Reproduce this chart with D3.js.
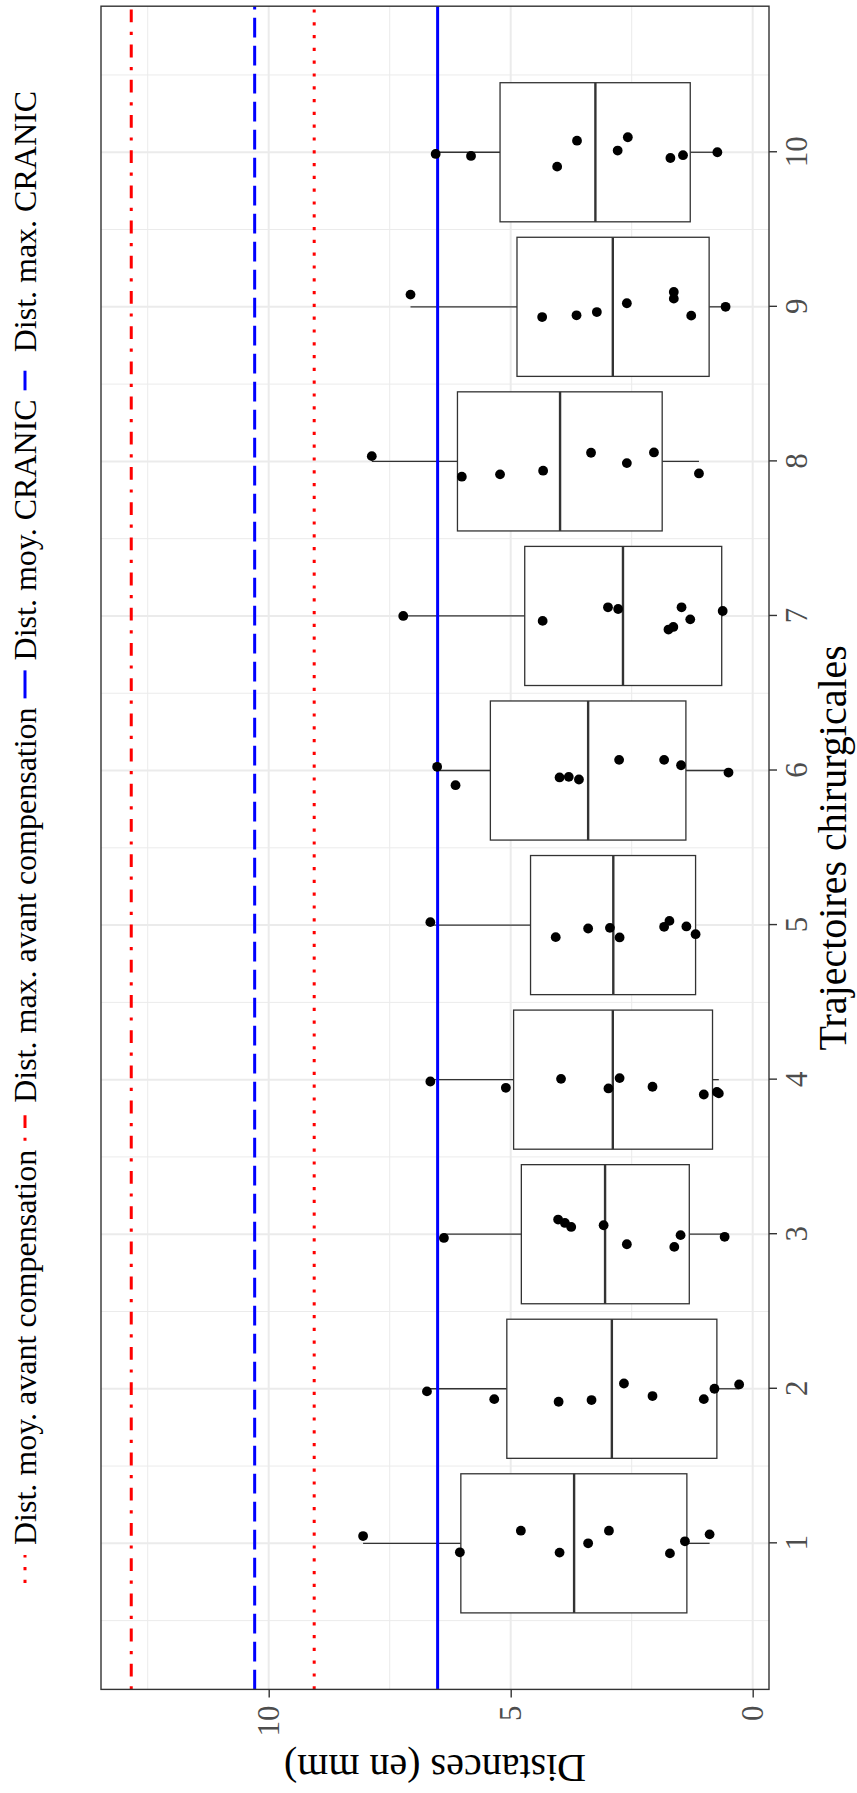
<!DOCTYPE html>
<html><head><meta charset="utf-8">
<script src="https://cdn.jsdelivr.net/npm/d3@7"></script>
<style>html,body{margin:0;padding:0;background:#fff}svg{display:block}</style>
</head><body>
<script>
// ---- data ----
const categories = [1,2,3,4,5,6,7,8,9,10];
const boxQ1     = [1.36, 0.74, 1.31, 0.83, 1.18, 1.38, 0.64, 1.87, 0.90, 1.29];
const boxMedian = [3.69, 2.91, 3.05, 2.89, 2.88, 3.40, 2.68, 3.98, 2.89, 3.25];
const boxQ3     = [6.03, 5.08, 4.78, 4.94, 4.59, 5.42, 4.71, 6.10, 4.87, 5.22];
const whiskerLow  = [0.89, 0.28, 0.58, 0.70, 1.18, 0.50, 0.62, 1.11, 0.56, 0.73];
const whiskerHigh = [8.05, 6.73, 6.38, 6.66, 6.66, 6.52, 7.22, 7.87, 7.07, 6.55];
const pointValues = [
  [8.05, 6.05, 4.79, 3.99, 3.40, 2.97, 1.71, 1.40, 0.89],
  [6.73, 5.34, 4.01, 3.33, 2.66, 2.07, 1.01, 0.79, 0.28],
  [6.38, 4.02, 3.88, 3.75, 3.08, 2.60, 1.62, 1.49, 0.58],
  [6.66, 5.10, 3.96, 2.98, 2.75, 2.07, 1.01, 0.74, 0.70],
  [6.66, 4.07, 3.40, 2.95, 2.75, 1.83, 1.72, 1.37, 1.18],
  [6.52, 6.14, 3.99, 3.80, 3.59, 2.76, 1.83, 1.48, 0.50],
  [7.22, 4.34, 2.99, 2.78, 1.47, 1.29, 1.74, 1.64, 0.62],
  [7.87, 6.01, 5.22, 4.33, 3.34, 2.60, 2.04, 1.11],
  [7.07, 4.35, 3.64, 3.22, 2.60, 1.63, 1.63, 1.27, 0.56],
  [6.55, 5.82, 4.04, 3.63, 2.79, 2.58, 1.70, 1.44, 0.73]
];
const pointJitter = [
  [0.047, -0.058, 0.082, -0.060, 0.000, 0.082, -0.065, 0.013, 0.058],
  [-0.017, -0.067, -0.084, -0.073, 0.034, -0.047, -0.067, 0.000, 0.028],
  [-0.024, 0.095, 0.073, 0.047, 0.058, -0.065, -0.082, -0.006, -0.017],
  [-0.012, -0.053, 0.005, -0.057, 0.010, -0.046, -0.096, -0.080, -0.089],
  [0.019, -0.078, -0.022, -0.018, -0.080, -0.011, 0.027, -0.009, -0.059],
  [0.024, -0.095, -0.045, -0.041, -0.058, 0.069, 0.069, 0.034, -0.013],
  [0.000, -0.032, 0.056, 0.045, 0.056, -0.022, -0.088, -0.071, 0.032],
  [0.034, -0.099, -0.084, -0.060, 0.056, -0.011, 0.058, -0.078],
  [0.079, -0.066, -0.055, -0.034, 0.023, 0.096, 0.053, -0.057, 0.000],
  [-0.011, -0.024, -0.093, 0.075, 0.011, 0.097, -0.037, -0.019, 0.000]
];
const refLabels = ["Dist. moy. avant compensation", "Dist. max. avant compensation", "Dist. moy. CRANIC", "Dist. max. CRANIC"];
const refValues = [9.06, 12.84, 6.51, 10.29];
const refColors = ["#FF0000", "#FF0000", "#0000FF", "#0000FF"];
const refDashes = ["3.2,9.6", "3.2,9.6,12.8,9.6", null, "19.6,8.4"];
const yTicks = [0, 5, 10];
const yMinorTicks = [2.5, 7.5, 12.5];
const xMinorTicks = [0.5,1.5,2.5,3.5,4.5,5.5,6.5,7.5,8.5,9.5,10.5];
const xTitle = "Trajectoires chirurgicales";
const yTitle = "Distances (en mm)";

// ---- layout (drawn in landscape, then rotated -90deg) ----
const PW = 857, PH = 1793;   // page
const FONT = "'Liberation Serif', 'Times New Roman', serif";
const panel = {left: 103.6, right: 1786.8, top: 101, bottom: 769};

const svg = d3.select("body").append("svg").attr("width", PW).attr("height", PH)
  .style("font-family", FONT);
svg.append("rect").attr("width", PW).attr("height", PH).attr("fill", "#fff");
const g = svg.append("g").attr("transform", `translate(0,${PH}) rotate(-90)`);

const x = d3.scaleLinear().domain([0.055, 10.945]).range([panel.left, panel.right]);
const y = d3.scaleLinear().domain([-0.337, 13.465]).range([panel.bottom, panel.top]);

// grid
const grid = g.append("g");
grid.selectAll(".ymin").data(yMinorTicks).join("line")
  .attr("x1", panel.left).attr("x2", panel.right)
  .attr("y1", d => y(d)).attr("y2", d => y(d))
  .attr("stroke", "#EBEBEB").attr("stroke-width", 1);
grid.selectAll(".xmin").data(xMinorTicks).join("line")
  .attr("y1", panel.top).attr("y2", panel.bottom)
  .attr("x1", d => x(d)).attr("x2", d => x(d))
  .attr("stroke", "#EBEBEB").attr("stroke-width", 1);
grid.selectAll(".ymaj").data(yTicks).join("line")
  .attr("x1", panel.left).attr("x2", panel.right)
  .attr("y1", d => y(d)).attr("y2", d => y(d))
  .attr("stroke", "#EBEBEB").attr("stroke-width", 2);
grid.selectAll(".xmaj").data(categories).join("line")
  .attr("y1", panel.top).attr("y2", panel.bottom)
  .attr("x1", d => x(d)).attr("x2", d => x(d))
  .attr("stroke", "#EBEBEB").attr("stroke-width", 2);

// boxplots
const halfW = 0.45;
const boxes = g.append("g");
categories.forEach((c, i) => {
  const bg = boxes.append("g");
  bg.append("line").attr("x1", x(c)).attr("x2", x(c))
    .attr("y1", y(boxQ3[i])).attr("y2", y(whiskerHigh[i]))
    .attr("stroke", "#333").attr("stroke-width", 1.3);
  bg.append("line").attr("x1", x(c)).attr("x2", x(c))
    .attr("y1", y(boxQ1[i])).attr("y2", y(whiskerLow[i]))
    .attr("stroke", "#333").attr("stroke-width", 1.3);
  bg.append("rect").attr("x", x(c - halfW)).attr("width", x(c + halfW) - x(c - halfW))
    .attr("y", y(boxQ3[i])).attr("height", y(boxQ1[i]) - y(boxQ3[i]))
    .attr("fill", "#fff").attr("stroke", "#333").attr("stroke-width", 1.3);
  bg.append("line").attr("x1", x(c - halfW)).attr("x2", x(c + halfW))
    .attr("y1", y(boxMedian[i])).attr("y2", y(boxMedian[i]))
    .attr("stroke", "#333").attr("stroke-width", 2.4);
});

// reference lines
refValues.forEach((v, i) => {
  g.append("line").attr("x1", panel.left).attr("x2", panel.right)
    .attr("y1", y(v)).attr("y2", y(v))
    .attr("stroke", refColors[i]).attr("stroke-width", 3)
    .attr("stroke-dasharray", refDashes[i]);
});

// points
const pts = [];
categories.forEach((c, i) => pointValues[i].forEach((v, j) => pts.push({x: c + pointJitter[i][j], v})));
g.append("g").selectAll("circle").data(pts).join("circle")
  .attr("cx", d => x(d.x)).attr("cy", d => y(d.v)).attr("r", 4.9).attr("fill", "#000");

// panel border
g.append("rect").attr("x", panel.left).attr("y", panel.top)
  .attr("width", panel.right - panel.left).attr("height", panel.bottom - panel.top)
  .attr("fill", "none").attr("stroke", "#333").attr("stroke-width", 1.4);

// axes
const xAxis = g.append("g").attr("transform", `translate(0,${panel.bottom})`)
  .call(d3.axisBottom(x).tickValues(categories).tickSize(8).tickPadding(8).tickFormat(d3.format("d")));
const yAxis = g.append("g").attr("transform", `translate(${panel.left},0)`)
  .call(d3.axisLeft(y).tickValues(yTicks).tickSize(8).tickPadding(8).tickFormat(d3.format("d")));
[xAxis, yAxis].forEach(a => {
  a.select(".domain").remove();
  a.selectAll(".tick line").attr("stroke", "#333").attr("stroke-width", 1.4);
  a.selectAll(".tick text").attr("fill", "#4D4D4D").style("font-family", FONT).style("font-size", "31px");
});

// axis titles
g.append("text").attr("x", (panel.left + panel.right) / 2).attr("y", 846)
  .attr("text-anchor", "middle").style("font-size", "40px").attr("fill", "#000").text(xTitle);
g.append("text").attr("transform", `translate(38,${(panel.top + panel.bottom) / 2}) rotate(-90)`)
  .attr("text-anchor", "middle").style("font-size", "40px").attr("fill", "#000").text(yTitle);

// legend
const legend = g.append("g");
const keyW = 28, keyGap = 10, itemGap = 9, legFont = 32;
const items = refLabels.map((lab, i) => ({lab, i}));
const tmp = legend.selectAll("text.m").data(items).join("text").style("font-size", legFont + "px").text(d => d.lab);
const widths = [];
tmp.each(function() { widths.push(this.getComputedTextLength()); });
tmp.remove();
let total = 0;
widths.forEach((w, i) => { total += keyW + keyGap + w + (i < widths.length - 1 ? itemGap : 0); });
let cx = 956 - total / 2;
const legY = 25;
items.forEach((d, i) => {
  legend.append("line").attr("x1", cx).attr("x2", cx + keyW).attr("y1", legY).attr("y2", legY)
    .attr("stroke", refColors[i]).attr("stroke-width", 3).attr("stroke-dasharray", refDashes[i]);
  legend.append("text").attr("x", cx + keyW + keyGap).attr("y", legY).attr("dy", "0.35em")
    .style("font-size", legFont + "px").attr("fill", "#000").text(d.lab);
  cx += keyW + keyGap + widths[i] + itemGap;
});
</script>
</body></html>
